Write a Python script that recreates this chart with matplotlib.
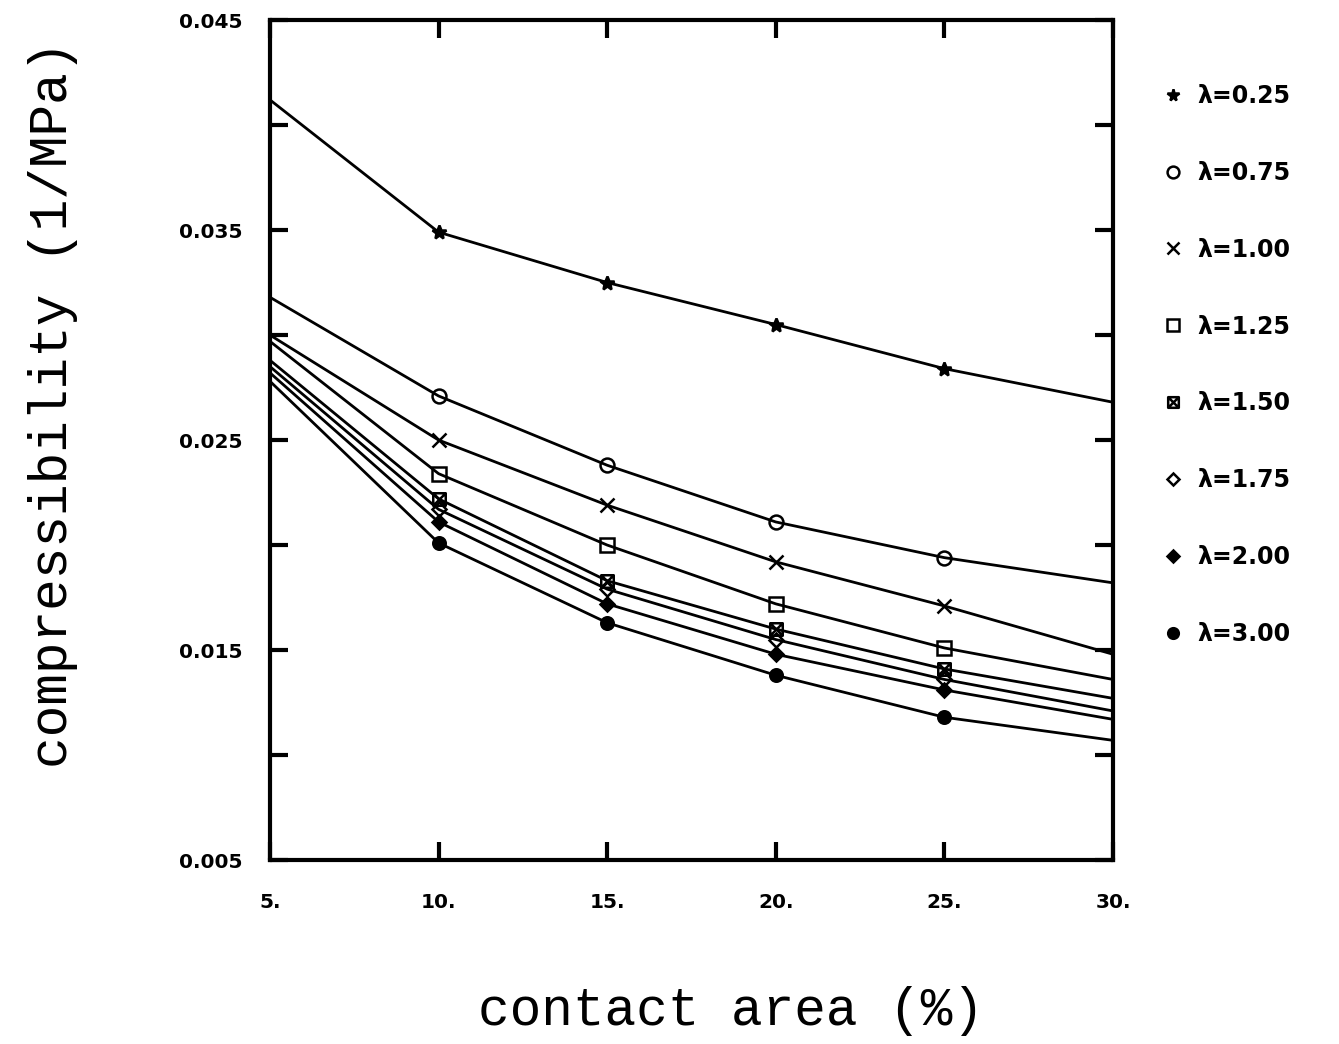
#!/usr/bin/env python

"""
Compressibility against contact area for several lambda values.
"""

import numpy as np
import matplotlib
matplotlib.use("Agg")
import matplotlib.pyplot as plt
from matplotlib.path import Path
from matplotlib.lines import Line2D

contact_area = [5, 10, 15, 20, 25, 30]

lam_025 = [0.0412, 0.0349, 0.0325, 0.0305, 0.0284, 0.0268]
lam_075 = [0.0318, 0.0271, 0.0238, 0.0211, 0.0194, 0.0182]
lam_100 = [0.0300, 0.0250, 0.0219, 0.0192, 0.0171, 0.0148]
lam_125 = [0.0297, 0.0234, 0.0200, 0.0172, 0.0151, 0.0136]
lam_150 = [0.0288, 0.0222, 0.0183, 0.0160, 0.0141, 0.0127]
lam_175 = [0.0285, 0.0217, 0.0179, 0.0155, 0.0136, 0.0121]
lam_200 = [0.0282, 0.0211, 0.0172, 0.0148, 0.0131, 0.0117]
lam_300 = [0.0278, 0.0201, 0.0163, 0.0138, 0.0118, 0.0107]

labels = ["λ=0.25", "λ=0.75", "λ=1.00", "λ=1.25",
          "λ=1.50", "λ=1.75", "λ=2.00", "λ=3.00"]
series = [lam_025, lam_075, lam_100, lam_125,
          lam_150, lam_175, lam_200, lam_300]

# square with an x inside for lambda = 1.50
sq = Path([(-1, -1), (1, -1), (1, 1), (-1, 1), (-1, -1)],
          [Path.MOVETO, Path.LINETO, Path.LINETO, Path.LINETO, Path.CLOSEPOLY])
xx = Path([(-1, -1), (1, 1), (-1, 1), (1, -1)],
          [Path.MOVETO, Path.LINETO, Path.MOVETO, Path.LINETO])
boxx = Path.make_compound_path(sq, xx)

styles = [("*", "k", 10), ("o", "none", 10), ("x", "none", 10),
          ("s", "none", 10), (boxx, "none", 9), ("D", "none", 7),
          ("D", "k", 7), ("o", "k", 9)]

fig = plt.figure(figsize=(13.39, 10.44), dpi=100)
ax = fig.add_axes([0.2016, 0.1762, 0.6296, 0.8046])

handles = []
for vals, lab, (mk, fc, ms) in zip(series, labels, styles):
    ax.plot(contact_area, vals, color="black", lw=2.0, marker=mk,
            mfc=fc, mec="black", mew=1.8, ms=ms, markevery=[1, 2, 3, 4])
    handles.append(Line2D([], [], ls="none", marker=mk, mfc=fc,
                          mec="black", mew=1.8, ms=ms * 0.85, label=lab))

ax.set_xlim(5, 30)
ax.set_ylim(0.005, 0.045)
ax.set_xticks([5, 10, 15, 20, 25, 30])
ax.set_xticklabels(["5.", "10.", "15.", "20.", "25.", "30."])
ax.set_yticks([0.005, 0.015, 0.025, 0.035, 0.045])
ax.set_yticklabels(["0.005", "0.015", "0.025", "0.035", "0.045"])
ax.set_yticks([0.01, 0.02, 0.03, 0.04], minor=True)

for s in ax.spines.values():
    s.set_linewidth(3)
ax.tick_params(which="both", direction="in", top=True, right=True,
               length=13, width=3)
ax.tick_params(axis="y", pad=20)
ax.tick_params(axis="x", pad=24)
for t in ax.get_xticklabels() + ax.get_yticklabels():
    t.set_fontfamily("DejaVu Sans")
    t.set_fontweight("bold")
    t.set_fontsize(14.5)

ax.set_ylabel("compressibility (1/MPa)", family="Liberation Mono",
              fontsize=38)
ax.yaxis.set_label_coords(-0.228, 0.542)
ax.set_xlabel("contact area (%)", family="Liberation Mono", fontsize=38)
ax.xaxis.set_label_coords(0.547, -0.15)

leg = fig.legend(handles=handles, loc="upper left",
                 bbox_to_anchor=(0.851, 0.94), frameon=False,
                 handlelength=1.0, handletextpad=0.55, labelspacing=2.24,
                 prop={"family": "DejaVu Sans", "weight": "bold", "size": 17})

fig.savefig("out.png", dpi=100)
